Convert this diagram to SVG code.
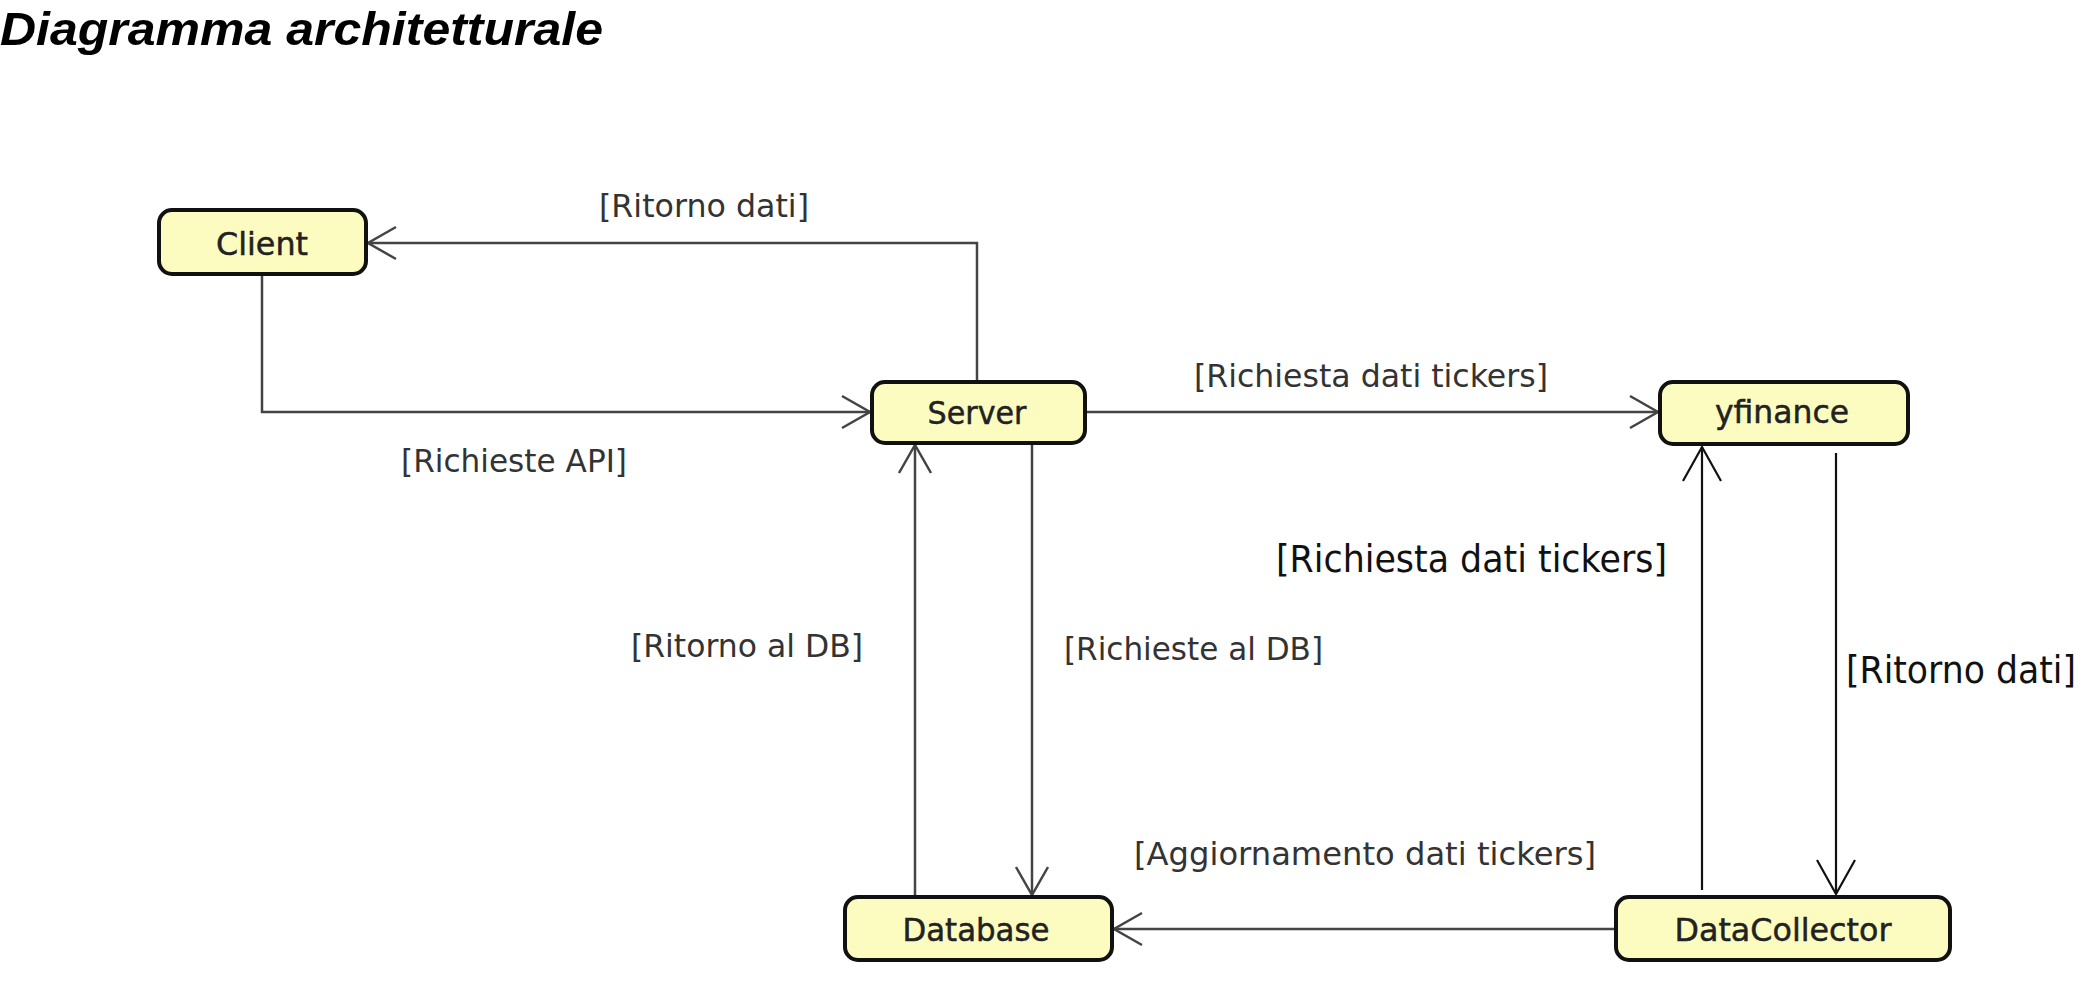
<svg xmlns="http://www.w3.org/2000/svg" width="2088" height="983" viewBox="0 0 2088 983">
<style>
.node rect{fill:#fdfcc0;stroke:#111;stroke-width:4}
.node text{font-family:"DejaVu Sans",sans-serif;font-size:32px;fill:#222;stroke:#222;stroke-width:0.5;text-anchor:middle}
.conn{fill:none;stroke:#444;stroke-width:2.5}
.conn.dark{stroke:#111;stroke-width:2.2}
.lbl{font-family:"DejaVu Sans",sans-serif;font-size:32px;fill:#333}
.lbl.big{font-size:37px;fill:#111}
.title{font-family:"Liberation Sans",Arial,sans-serif;font-size:47px;font-weight:bold;font-style:italic;fill:#000}
</style>
<defs>
<marker id="ah" markerUnits="userSpaceOnUse" markerWidth="40" markerHeight="40" viewBox="-32 -20 36 40" refX="0" refY="0" orient="auto">
<path d="M-28,-16 L0,0 L-28,16" fill="none" stroke="#444" stroke-width="2.5"/>
</marker>
<marker id="ahb" markerUnits="userSpaceOnUse" markerWidth="44" markerHeight="44" viewBox="-38 -22 42 44" refX="0" refY="0" orient="auto">
<path d="M-34,-19 L0,0 L-34,19" fill="none" stroke="#111" stroke-width="2.2"/>
</marker>
</defs>
<rect width="2088" height="983" fill="#fff"/>
<text class="title" x="0" y="45" textLength="603" lengthAdjust="spacingAndGlyphs">Diagramma architetturale</text>
<g id="connectors">
<path class="conn" d="M262,274 V412 H870" marker-end="url(#ah)"/>
<path class="conn" d="M977,382 V243 H368" marker-end="url(#ah)"/>
<path class="conn" d="M1085,412 H1658" marker-end="url(#ah)"/>
<path class="conn" d="M915,897 V445" marker-end="url(#ah)"/>
<path class="conn" d="M1032,443 V895" marker-end="url(#ah)"/>
<path class="conn" d="M1616,929 H1114" marker-end="url(#ah)"/>
<path class="conn dark" d="M1702,890 V447" marker-end="url(#ahb)"/>
<path class="conn dark" d="M1836,453 V894" marker-end="url(#ahb)"/>
</g>
<g id="labels">
<text class="lbl" x="599" y="217" textLength="210" lengthAdjust="spacingAndGlyphs">[Ritorno dati]</text>
<text class="lbl" x="401" y="472" textLength="226" lengthAdjust="spacingAndGlyphs">[Richieste API]</text>
<text class="lbl" x="1194" y="387" textLength="354" lengthAdjust="spacingAndGlyphs">[Richiesta dati tickers]</text>
<text class="lbl" x="631" y="657" textLength="232" lengthAdjust="spacingAndGlyphs">[Ritorno al DB]</text>
<text class="lbl" x="1064" y="660" textLength="259" lengthAdjust="spacingAndGlyphs">[Richieste al DB]</text>
<text class="lbl" x="1134" y="865" textLength="462" lengthAdjust="spacingAndGlyphs">[Aggiornamento dati tickers]</text>
<text class="lbl big" x="1276" y="572" textLength="391" lengthAdjust="spacingAndGlyphs">[Richiesta dati tickers]</text>
<text class="lbl big" x="1846" y="683" textLength="230" lengthAdjust="spacingAndGlyphs">[Ritorno dati]</text>
</g>
<g id="client" class="node">
<rect x="159" y="210" width="207" height="64" rx="13"/>
<text x="262" y="255" textLength="92" lengthAdjust="spacingAndGlyphs">Client</text>
</g>
<g id="server" class="node">
<rect x="872" y="382" width="213" height="61" rx="13"/>
<text x="977" y="424" textLength="99" lengthAdjust="spacingAndGlyphs">Server</text>
</g>
<g id="yfinance" class="node">
<rect x="1660" y="382" width="248" height="62" rx="13"/>
<text x="1782" y="423" textLength="134" lengthAdjust="spacingAndGlyphs">yfinance</text>
</g>
<g id="database" class="node">
<rect x="845" y="897" width="267" height="63" rx="13"/>
<text x="976" y="941" textLength="147" lengthAdjust="spacingAndGlyphs">Database</text>
</g>
<g id="datacollector" class="node">
<rect x="1616" y="897" width="334" height="63" rx="13"/>
<text x="1783" y="941" textLength="217" lengthAdjust="spacingAndGlyphs">DataCollector</text>
</g>
</svg>
